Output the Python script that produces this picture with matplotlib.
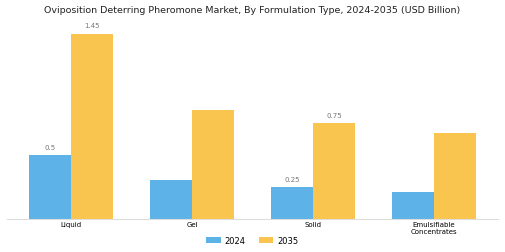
import matplotlib
matplotlib.use("Agg")
import matplotlib.pyplot as plt
import numpy as np

categories = ["Liquid", "Gel", "Solid", "Emulsifiable\nConcentrates"]
v2024 = [0.50, 0.30, 0.25, 0.21]
v2035 = [1.45, 0.85, 0.75, 0.67]
labels2024 = ["0.5", None, "0.25", None]
labels2035 = ["1.45", None, "0.75", None]

fig = plt.figure(figsize=(5.05, 2.53), dpi=100)
ax = fig.add_axes([0.014, 0.132, 0.972, 0.807])
x = np.arange(len(categories))
w = 0.35
b1 = ax.bar(x - w/2, v2024, w, color="#5DB3E8", label="2024")
b2 = ax.bar(x + w/2, v2035, w, color="#F9C54E", label="2035")
for bars, labs in ((b1, labels2024), (b2, labels2035)):
    for r, l in zip(bars, labs):
        if l:
            ax.text(r.get_x() + r.get_width()/2, r.get_height() + 0.04, l,
                    ha="center", va="bottom", fontsize=5, color="#777777")
ax.set_xlim(-0.53, 3.53)
ax.set_ylim(0, 1.6)
ax.set_xticks(x)
ax.set_xticklabels(categories, fontsize=5, linespacing=1.1)
ax.tick_params(axis="x", length=0, pad=2)
ax.set_yticks([])
for s in ("top", "right", "left"):
    ax.spines[s].set_visible(False)
ax.spines["bottom"].set_color("#dddddd")
ax.spines["bottom"].set_linewidth(0.8)
fig.text(0.5, 0.96, "Oviposition Deterring Pheromone Market, By Formulation Type, 2024-2035 (USD Billion)",
         ha="center", va="center", fontsize=6.8, color="#222222")
fig.legend(loc="center", bbox_to_anchor=(0.5, 0.045), ncol=2, fontsize=6, frameon=False,
           handlelength=1.7, handleheight=0.7, handletextpad=0.5, columnspacing=1.6)
fig.savefig("out.png", dpi=100)
